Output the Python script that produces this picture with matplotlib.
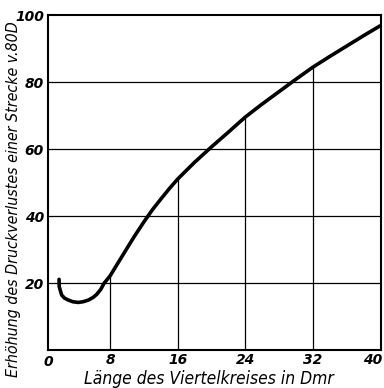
import numpy as np
import matplotlib
matplotlib.use("Agg")
import matplotlib.pyplot as plt
from matplotlib.transforms import ScaledTranslation

# Curve: increase of pressure loss vs. length of the quarter circle
laenge = [1.96, 1.98, 2.27, 2.6, 3.06, 3.6, 4.24, 4.8, 5.43, 6.0, 6.42, 6.9,
          7.29, 8.0, 8.8, 9.8, 10.8, 12.0, 13.0, 14.0, 15.0, 16.0, 18.0, 20.0,
          22.0, 24.0, 26.0, 28.0, 30.0, 32.0, 34.0, 36.0, 38.0, 40.0]
erhoehung = [21.1, 18.9, 16.4, 15.5, 14.9, 14.4, 14.2, 14.4, 14.9, 15.7, 16.6,
             18.1, 19.9, 22.1, 25.4, 29.5, 33.6, 38.2, 41.8, 45.0, 48.1, 51.0,
             56.0, 60.6, 65.0, 69.5, 73.4, 77.1, 80.8, 84.4, 87.6, 90.7, 93.8,
             96.8]

x_ticks = [8, 16, 24, 32, 40]
y_ticks = [20, 40, 60, 80, 100]
x_label = "Länge des Viertelkreises in Dmr"
y_label = "Erhöhung des Druckverlustes einer Strecke v.80D"

plt.rcParams["font.family"] = ["DejaVu Sans"]

fig = plt.figure(figsize=(3.84, 3.88), dpi=100)
ax = fig.add_axes([0.125, 0.098, 0.867, 0.863])

ax.set_xlim(0.65, 40.1)
ax.set_ylim(0, 100)

# horizontal reference lines across the full width
for yv in y_ticks[:-1]:
    ax.axhline(yv, color="black", lw=0.9, zorder=1)

# vertical lines from the base up to the curve
for xv in x_ticks[:-1]:
    yv = np.interp(xv, laenge, erhoehung)
    ax.plot([xv, xv], [0, yv], color="black", lw=0.9, zorder=1)

ax.plot(laenge, erhoehung, color="black", lw=2.6, solid_capstyle="round",
        solid_joinstyle="round", zorder=3)

for s in ax.spines.values():
    s.set_linewidth(1.5)

ax.set_xticks(x_ticks)
ax.set_yticks(y_ticks)
ax.tick_params(axis="x", length=0, labelsize=10, pad=2)
ax.tick_params(axis="y", length=0, labelsize=10, pad=3)
for lab in ax.get_xticklabels() + ax.get_yticklabels():
    lab.set_fontstyle("italic")
    lab.set_fontweight("bold")
# keep the last x label inside the canvas
last = ax.get_xticklabels()[-1]
last.set_transform(last.get_transform() + ScaledTranslation(-7 / 100, 0, fig.dpi_scale_trans))
ax.text(0.65, -1.5, "0", ha="center", va="top", fontsize=10,
        fontstyle="italic", fontweight="bold")

# axis titles, sized to span the available length
xl = fig.text(209 / 384, 1 - 379 / 388, x_label, ha="center", va="center",
              fontsize=12, fontstyle="italic", fontstretch="condensed")
yl = fig.text(14 / 384, 1 - 199 / 388, y_label, ha="center", va="center",
              rotation=90, fontsize=12, fontstyle="italic",
              fontstretch="condensed")

fig.canvas.draw()
r = fig.canvas.get_renderer()
w = xl.get_window_extent(r).width
xl.set_fontsize(12 * 250 / w)
h = yl.get_window_extent(r).height
yl.set_fontsize(12 * 356 / h)

fig.savefig("out.png", dpi=100)
